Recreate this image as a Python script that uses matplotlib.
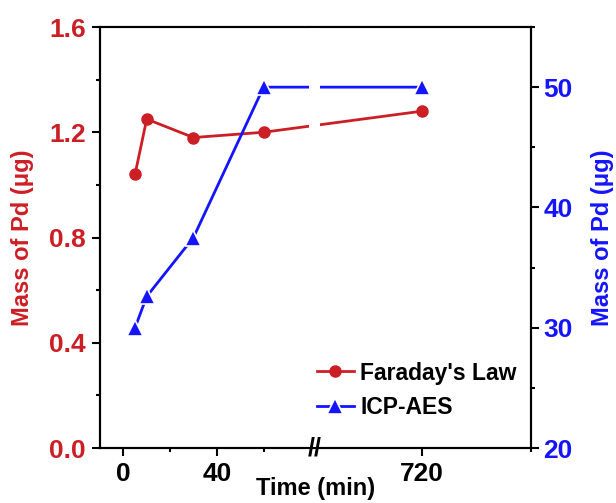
import numpy as np
import matplotlib
matplotlib.use("Agg")
import matplotlib.pyplot as plt
import matplotlib.transforms as mtransforms
from matplotlib.lines import Line2D

plt.rcParams["font.family"] = ["Liberation Sans", "DejaVu Sans"]
plt.rcParams["font.weight"] = "bold"

# data
time_min = [5, 10, 30, 60, 720]
faraday = [1.04, 1.25, 1.18, 1.20, 1.28]
icp_aes = [30.0, 32.6, 37.5, 50.0, 50.0]
x_major = [0, 40, 720]
x_minor = [20, 60, 760]

red = "#cc1f25"
blue = "#1414ff"

# broken x axis: 0..82 linear, gap, then 681..760 stretched
b1, b2, k = 82.0, 681.0, 1.17


def fwd(x):
    x = np.asarray(x, dtype=float)
    return np.where(x <= b1, x, np.where(x >= b2, b1 + (x - b2) * k, b1))


def inv(y):
    y = np.asarray(y, dtype=float)
    return np.where(y <= b1, y, b2 + (y - b1) / k)


fig = plt.figure(figsize=(6.16, 5.03), dpi=100)
ax = fig.add_axes([0.1623, 0.1093, 0.6997, 0.837])
ax.set_xscale("function", functions=(fwd, inv))
ax2 = ax.twinx()

ax.plot(time_min, faraday, color=red, lw=2, marker="o", ms=8,
        label="Faraday's Law", zorder=2)
ax2.plot(time_min, icp_aes, color=blue, lw=2, marker="^", ms=11,
         mec="white", mew=1.2, label="ICP-AES", zorder=2)

ax.set_xlim(-10, 760)
ax.set_ylim(0, 1.6)
ax2.set_ylim(20, 55)

ax.set_xticks(x_major)
ax.set_xticks(x_minor, minor=True)
ax.set_yticks([0.0, 0.4, 0.8, 1.2, 1.6])
ax.set_yticks(np.arange(0.2, 1.6, 0.4), minor=True)
ax2.set_yticks([20, 30, 40, 50])
ax2.set_yticks([25, 35, 45, 55], minor=True)
ax.set_yticklabels(["0.0", "0.4", "0.8", "1.2", "1.6"])

for a in (ax, ax2):
    for s in a.spines.values():
        s.set_linewidth(1.5)
ax.tick_params(axis="both", which="major", direction="out", length=6, width=1.5,
               labelsize=19, pad=4)
ax.tick_params(axis="both", which="minor", direction="out", length=3, width=1.5)
ax.tick_params(axis="y", colors="black", labelcolor=red)
ax2.tick_params(axis="y", which="major", direction="out", length=6, width=1.5,
                labelsize=19, labelcolor=blue, pad=3)
ax2.tick_params(axis="y", which="minor", direction="out", length=3, width=1.5)
for lab in ax.get_xticklabels() + ax.get_yticklabels() + ax2.get_yticklabels():
    lab.set_fontweight("bold")

ax.set_ylabel("Mass of Pd (μg)", color=red, fontsize=17, fontweight="bold", labelpad=11)
ax2.set_ylabel("Mass of Pd (μg)", color=blue, fontsize=17, fontweight="bold", labelpad=13)
ax.set_xlabel("Time (min)", fontsize=17, fontweight="bold")
ax.xaxis.set_label_coords(0.5, -0.07)

# gap in the lines at the axis break
ax2.axvspan(79.5, 683, color="white", zorder=2.3, lw=0)
trans = mtransforms.blended_transform_factory(ax2.transData, ax2.transAxes)
ax2.text(b1, 0.0, "//", transform=trans, ha="center", va="center",
         fontsize=18, fontweight="bold", zorder=5, clip_on=False)

handles = [
    Line2D([], [], color=red, lw=2, marker="o", ms=8),
    Line2D([], [], color=blue, lw=2, marker="^", ms=11, mec="white", mew=1.2),
]
ax2.legend(handles, ["Faraday's Law", "ICP-AES"], loc="lower right",
           bbox_to_anchor=(1.015, 0.02), frameon=False,
           handlelength=1.6, handletextpad=0.3, labelspacing=0.5,
           prop={"weight": "bold", "size": 16.5})

fig.savefig("out.png", dpi=100)
